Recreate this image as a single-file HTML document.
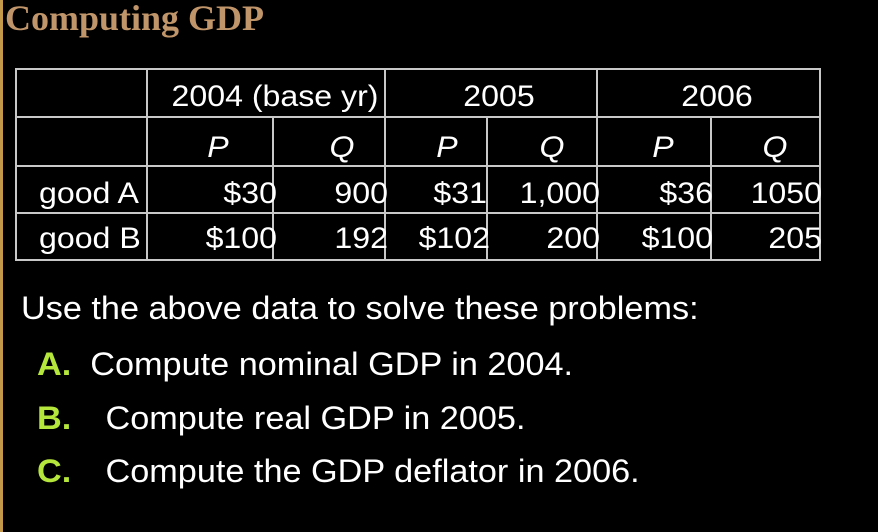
<!DOCTYPE html>
<html><head><meta charset="utf-8"><style>
html,body{margin:0;padding:0;background:#000;}
#s{position:relative;width:878px;height:532px;background:#000;overflow:hidden;font-family:"Liberation Sans",Arial,sans-serif;color:#fff;}
.t{position:absolute;white-space:nowrap;font-size:30px;line-height:34px;transform:scaleX(1.07);transform-origin:left center;}
.r{text-align:right;transform-origin:right center;}
.c{text-align:center;transform-origin:center center;}
.hl{position:absolute;background:#c8c8c8;height:2px;}
.vl{position:absolute;background:#c8c8c8;width:2px;}
.it{font-style:italic;}
.g{color:#b5e63c;font-weight:bold;}
.big{font-size:32px;}
.g2{display:inline-block;width:64px;}
</style></head><body>
<div id="s">
<div style="position:absolute;left:0;top:0;width:3px;height:532px;background:#c49a4a"></div>
<div style="position:absolute;left:5px;top:-2px;font-family:'Liberation Serif',serif;font-weight:bold;font-size:36px;line-height:40px;color:#c0956a">Computing GDP</div>

<div>
<div class="hl" style="left:15px;width:806px;top:68px"></div>
<div class="hl" style="left:15px;width:806px;top:116px"></div>
<div class="hl" style="left:15px;width:806px;top:165px"></div>
<div class="hl" style="left:15px;width:806px;top:212px"></div>
<div class="hl" style="left:15px;width:806px;top:259px"></div>
<div class="vl" style="left:15px;top:68px;height:193px"></div>
<div class="vl" style="left:146px;top:68px;height:193px"></div>
<div class="vl" style="left:272px;top:116px;height:145px"></div>
<div class="vl" style="left:384px;top:68px;height:193px"></div>
<div class="vl" style="left:486px;top:116px;height:145px"></div>
<div class="vl" style="left:596px;top:68px;height:193px"></div>
<div class="vl" style="left:710px;top:116px;height:145px"></div>
<div class="vl" style="left:819px;top:68px;height:193px"></div>

<div class="t c" style="left:175px;width:200px;top:80px">2004 (base yr)</div>
<div class="t c" style="left:449px;width:100px;top:80px">2005</div>
<div class="t c" style="left:667px;width:100px;top:80px">2006</div>

<div class="t c it" style="left:188px;width:60px;top:131px">P</div>
<div class="t c it" style="left:312px;width:60px;top:131px">Q</div>
<div class="t c it" style="left:417px;width:60px;top:131px">P</div>
<div class="t c it" style="left:522px;width:60px;top:131px">Q</div>
<div class="t c it" style="left:633px;width:60px;top:131px">P</div>
<div class="t c it" style="left:745px;width:60px;top:131px">Q</div>

<div class="t" style="left:39px;top:177px">good A</div>
<div class="t r" style="left:177px;width:100px;top:177px">$30</div>
<div class="t r" style="left:288px;width:100px;top:177px">900</div>
<div class="t r" style="left:387px;width:100px;top:177px">$31</div>
<div class="t r" style="left:480px;width:120px;top:177px">1,000</div>
<div class="t r" style="left:613px;width:100px;top:177px">$36</div>
<div class="t r" style="left:722px;width:100px;top:177px">1050</div>

<div class="t" style="left:39px;top:222px">good B</div>
<div class="t r" style="left:177px;width:100px;top:222px">$100</div>
<div class="t r" style="left:288px;width:100px;top:222px">192</div>
<div class="t r" style="left:390px;width:100px;top:222px">$102</div>
<div class="t r" style="left:500px;width:100px;top:222px">200</div>
<div class="t r" style="left:613px;width:100px;top:222px">$100</div>
<div class="t r" style="left:722px;width:100px;top:222px">205</div>
</div>

<div class="t big" style="left:21px;top:291px">Use the above data to solve these problems:</div>
<div class="t big" style="left:37px;top:347px"><span class="g">A.</span>&nbsp; Compute nominal GDP in 2004.</div>
<div class="t big" style="left:37px;top:401px"><span class="g g2">B.</span>Compute real GDP in 2005.</div>
<div class="t big" style="left:37px;top:454px"><span class="g g2">C.</span>Compute the GDP deflator in 2006.</div>
</div>
</body></html>
